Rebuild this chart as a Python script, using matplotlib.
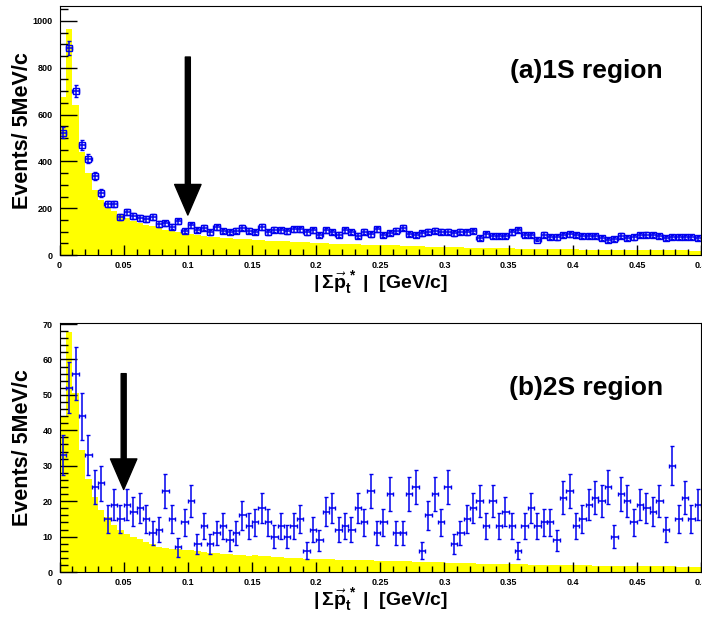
import matplotlib
matplotlib.use('Agg')
import matplotlib.pyplot as plt
import numpy as np
from matplotlib.ticker import MultipleLocator, FuncFormatter

plt.rcParams['font.family'] = ['Liberation Sans', 'DejaVu Sans']
plt.rcParams['font.weight'] = 'bold'
plt.rcParams['mathtext.fontset'] = 'custom'
plt.rcParams['mathtext.rm'] = 'Liberation Sans:bold'
plt.rcParams['mathtext.it'] = 'Liberation Sans:bold'
plt.rcParams['mathtext.bf'] = 'Liberation Sans:bold'

# bin edges: 5 MeV/c bins from 0 to 0.5 GeV/c
edges = np.linspace(0, 0.5, 101)
centers = 0.5 * (edges[:-1] + edges[1:])

# (a) 1S region - data
data_1s = [523, 886, 702, 469, 412, 338, 266, 218, 218, 162, 184, 167, 160, 155, 162, 132, 135, 121, 144, 103, 127, 107,
           116, 97, 118, 103, 98, 104, 116, 104, 98, 120, 97, 109, 105, 102, 110, 110, 97, 106, 86, 105, 99, 87, 105, 99, 83,
           100,
           88, 110, 85, 95, 104, 117, 90, 85, 93, 100, 104, 100, 100, 93, 100, 97, 103, 71, 88, 81, 81, 81, 97, 107, 85, 85,
           66, 87, 78, 75, 85, 88, 85, 80, 80, 80, 73, 63, 68, 83, 71, 75, 85, 87, 85, 80, 73, 78, 78, 78, 78, 71]
# (a) 1S region - MC (yellow)
mc_1s = [674, 966, 641, 442, 349, 278, 235, 207, 188, 171, 157, 146, 137, 129, 122, 115, 109, 103, 98, 93, 88,
         84, 81, 79, 76, 74, 72, 70, 69, 67, 65, 64, 62, 61, 59, 58, 56, 55, 54, 52, 51,
         50, 49, 48, 47, 46, 46, 44, 44, 43, 42, 42, 41, 39, 38, 38, 37, 36, 35, 34, 34,
         33, 33, 32, 31, 31, 30, 29, 29, 28, 28, 27, 27, 26, 26, 25, 25, 25, 24, 24, 24,
         23, 23, 23, 22, 22, 22, 22, 21, 21, 21, 21, 20, 20, 20, 20, 20, 20, 19, 19]

# (b) 2S region - data
data_2s = [33, 52, 56, 44, 33, 24, 25, 15, 19, 15, 19, 17, 18, 15, 11, 12, 23, 15, 7, 14, 20, 8, 13, 8, 11, 13, 9, 11, 16, 13, 14, 18, 14,
           10, 13, 10, 13, 15, 6, 12, 9, 17, 18, 12, 13, 12, 18, 14, 23, 11, 14, 22, 11, 11, 22, 24, 6, 16, 22, 14, 24, 8, 11, 15, 18, 20,
           13, 20, 13, 17, 13, 6, 13, 18, 13, 14, 14, 9, 21, 23, 13, 15, 19, 21, 20, 24, 10, 22, 20, 14, 19, 18, 17, 20, 12, 30, 15, 21, 15, 19]
# (b) 2S region - MC (yellow)
mc_2s = [43.8, 67.8, 50.4, 34.4, 26.4, 21.3, 17.5, 15.6, 13.3, 11.9, 10.6, 10.0, 9.2, 8.6, 7.8, 7.1, 6.9,
         6.6, 6.4, 6.2, 6.3, 6.0, 5.7, 5.5, 5.3, 5.2, 5.0, 4.9, 4.7, 4.6, 4.7, 4.5, 4.4, 4.2, 4.1, 4.0, 4.0, 3.9, 3.8, 3.8, 3.7,
         3.6, 3.6, 3.5, 3.5, 3.4, 3.4, 3.3, 3.3, 3.2, 3.2, 3.1, 3.1, 3.0, 3.0, 2.9, 2.9, 2.8, 2.8, 2.7, 2.6,
         2.6, 2.5, 2.5, 2.5, 2.4, 2.4, 2.3, 2.3, 2.3, 2.2, 2.2, 2.2, 2.1, 2.1, 2.1, 2.0, 2.0, 2.0, 1.9, 1.9,
         1.9, 1.9, 1.8, 1.8, 1.8, 1.8, 1.7, 1.7, 1.7, 1.7, 1.6, 1.6, 1.6, 1.6, 1.6, 1.5, 1.5, 1.5, 1.5]

# arrows (cut positions) and labels
cut_1s = 0.1
cut_2s = 0.05
labels = ['(a)1S region', '(b)2S region']
xlab = r'$|\,\Sigma\vec{\mathbf{p}}_{t}^{\,*}\;|$  [GeV/c]'
ylab = 'Events/ 5MeV/c'

fig = plt.figure(figsize=(7.02, 6.19), dpi=100)
ax1 = fig.add_axes([0.0848, 0.588, 0.9138, 0.4023])
ax2 = fig.add_axes([0.0848, 0.0759, 0.9138, 0.4023])

fmt = FuncFormatter(lambda v, p: '%g' % v)

def draw_panel(ax, data, mc, ymax, ymaj, ymin, cut, arr_top, arr_tip, label, markers):
    ax.stairs(mc, edges, fill=True, color='#ffff00', linewidth=0)
    data = np.array(data, dtype=float)
    ax.errorbar(centers, data, xerr=0.0025, yerr=np.sqrt(data), fmt='s' if markers else 'none',
                mfc='none', mec='#0000ee', ms=4.2, mew=1.0,
                ecolor='#0000ee', elinewidth=1.1, capsize=1.6, capthick=1.1)
    ax.annotate('', xy=(cut, arr_tip), xytext=(cut, arr_top),
                arrowprops=dict(facecolor='black', edgecolor='black', width=3.6,
                                headwidth=19, headlength=22, shrink=0))
    ax.text(0.821, 0.74, label, transform=ax.transAxes, ha='center', va='center',
            fontsize=19, fontweight='bold')
    ax.set_xlim(0, 0.5)
    ax.set_ylim(0, ymax)
    ax.xaxis.set_major_locator(MultipleLocator(0.05))
    ax.xaxis.set_minor_locator(MultipleLocator(0.01))
    ax.yaxis.set_major_locator(MultipleLocator(ymaj))
    ax.yaxis.set_minor_locator(MultipleLocator(ymin))
    ax.xaxis.set_major_formatter(fmt)
    ax.yaxis.set_major_formatter(fmt)
    ax.tick_params(axis='x', which='major', direction='in', length=7, width=1, labelsize=6.5, pad=4)
    ax.tick_params(axis='x', which='minor', direction='in', length=4, width=1)
    ax.tick_params(axis='y', which='major', direction='in', length=12, width=1, labelsize=6.5, pad=5)
    ax.tick_params(axis='y', which='minor', direction='in', length=6, width=1)
    for s in ax.spines.values():
        s.set_linewidth(0.8)
    ax.set_ylabel(ylab, fontsize=15.5, fontweight='bold', va='center')
    ax.yaxis.set_label_coords(-0.057, 0.5)
    ax.set_xlabel(xlab, fontsize=14, fontweight='bold', va='center')
    ax.xaxis.set_label_coords(0.5, -0.112)

draw_panel(ax1, data_1s, mc_1s, 1064, 200, 50, cut_1s, 846, 171, labels[0], True)
draw_panel(ax2, data_2s, mc_2s, 70.3, 10, 2, cut_2s, 56, 23.3, labels[1], False)

fig.savefig('out.png', dpi=100)
